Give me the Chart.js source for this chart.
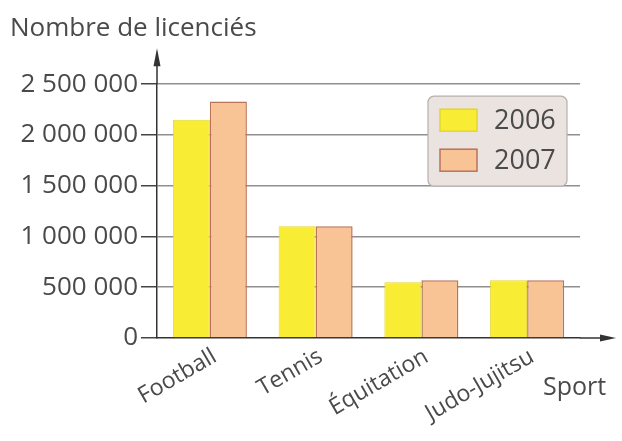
<!DOCTYPE html>
<html>
<head>
<meta charset="utf-8">
<script src="https://cdn.jsdelivr.net/npm/chart.js@4.4.0/dist/chart.umd.min.js"></script>
<style>
  html, body { margin: 0; padding: 0; background: #fff; }
  #wrap { width: 622px; height: 441px; }
</style>
</head>
<body>
<div id="wrap"><canvas id="sports"></canvas></div>
<script>
// Données
const sports = ['Football', 'Tennis', 'Équitation', 'Judo-Jujitsu'];
const annees = ['2006', '2007'];
const licencies2006 = [2150000, 1100000, 550000, 570000];
const licencies2007 = [2330000, 1100000, 570000, 570000];
const ticksY = [0, 500000, 1000000, 1500000, 2000000, 2500000];

const police = "'Open Sans', 'Lato', sans-serif";
const gris = '#4a4a4a';

// format français : 2 500 000
function formatNombre(v) {
    return String(v).replace(/\B(?=(\d{3})+(?!\d))/g, ' ');
}

// Flèches des axes, légende encadrée et libellé "Sport"
const decor = {
    id: 'decor',
    afterDraw(chart) {
        const ctx = chart.ctx;
        const a = chart.chartArea;
        ctx.save();
        ctx.strokeStyle = '#333';
        ctx.fillStyle = '#333';
        ctx.lineWidth = 1.5;
        // axe vertical prolongé + flèche
        ctx.beginPath();
        ctx.moveTo(a.left, a.top);
        ctx.lineTo(a.left, a.top - 22);
        ctx.stroke();
        ctx.beginPath();
        ctx.moveTo(a.left, a.top - 36);
        ctx.lineTo(a.left - 3.5, a.top - 18);
        ctx.lineTo(a.left + 3.5, a.top - 18);
        ctx.closePath();
        ctx.fill();
        // axe horizontal prolongé + flèche
        ctx.beginPath();
        ctx.moveTo(a.right, a.bottom);
        ctx.lineTo(a.right + 24, a.bottom);
        ctx.stroke();
        ctx.beginPath();
        ctx.moveTo(a.right + 36, a.bottom);
        ctx.lineTo(a.right + 20, a.bottom - 3.5);
        ctx.lineTo(a.right + 20, a.bottom + 3.5);
        ctx.closePath();
        ctx.fill();

        // "Sport"
        ctx.fillStyle = gris;
        ctx.font = '25px ' + police;
        ctx.textAlign = 'left';
        ctx.textBaseline = 'middle';
        ctx.fillText('Sport', a.right - 37, a.bottom + 50);

        // légende
        const lx = a.right - 152, ly = a.top + 12, lw = 139, lh = 90;
        ctx.fillStyle = '#ebe3e0';
        ctx.strokeStyle = '#b5b0ae';
        ctx.lineWidth = 1.2;
        ctx.beginPath();
        ctx.roundRect(lx, ly, lw, lh, 6);
        ctx.fill();
        ctx.stroke();
        chart.data.datasets.forEach((ds, i) => {
            const y = ly + 24 + i * 40;
            ctx.fillStyle = ds.backgroundColor;
            ctx.strokeStyle = ds.borderColor;
            ctx.lineWidth = 1.5;
            ctx.fillRect(lx + 12, y - 11, 37, 22);
            ctx.strokeRect(lx + 12, y - 11, 37, 22);
            ctx.fillStyle = gris;
            ctx.font = '27px ' + police;
            ctx.textBaseline = 'middle';
            ctx.fillText(ds.label, lx + 66, y + 1);
        });
        ctx.restore();
    }
};

const ctx = document.getElementById('sports').getContext('2d');
new Chart(ctx, {
    type: 'bar',
    data: {
        labels: sports,
        datasets: [{
            label: annees[0],
            data: licencies2006,
            backgroundColor: '#f8ec34',
            borderColor: '#e6d52e',
            borderWidth: 1
        }, {
            label: annees[1],
            data: licencies2007,
            backgroundColor: '#f9c495',
            borderColor: '#b8735a',
            borderWidth: 1.5
        }]
    },
    options: {
        responsive: true,
        maintainAspectRatio: false,
        animation: false,
        layout: { padding: { left: 10, right: 42, top: 0, bottom: 0 } },
        plugins: {
            legend: { display: false },
            tooltip: { enabled: false },
            title: {
                display: true,
                text: 'Nombre de licenciés',
                align: 'start',
                color: gris,
                font: { family: police, size: 26, weight: 'normal' },
                padding: { top: 13, bottom: 40 }
            }
        },
        datasets: {
            bar: { categoryPercentage: 0.7, barPercentage: 1 }
        },
        scales: {
            x: {
                grid: {
                    drawTicks: false,
                    color: c => c.index === sports.length ? '#999' : 'rgba(0,0,0,0)',
                    lineWidth: 1.5
                },
                border: { color: '#333', width: 1.5 },
                ticks: {
                    color: gris,
                    font: { family: police, size: 23 },
                    minRotation: 30,
                    maxRotation: 30,
                    labelOffset: 5,
                    padding: 5
                },
                afterFit: s => { s.height = 103; }
            },
            y: {
                min: 0,
                max: 2500000,
                afterBuildTicks: s => { s.ticks = ticksY.map(v => ({ value: v })); },
                grid: {
                    color: c => c.tick.value === 0 ? 'rgba(0,0,0,0)' : '#8f8f8f',
                    lineWidth: 1.5,
                    tickLength: 16,
                    tickColor: '#444'
                },
                border: { color: '#333', width: 1.5 },
                ticks: {
                    color: gris,
                    font: { family: police, size: 26 },
                    padding: 3,
                    callback: v => formatNombre(v)
                },
                afterFit: s => { s.width = 147; }
            }
        }
    },
    plugins: [decor]
});
</script>
</body>
</html>
